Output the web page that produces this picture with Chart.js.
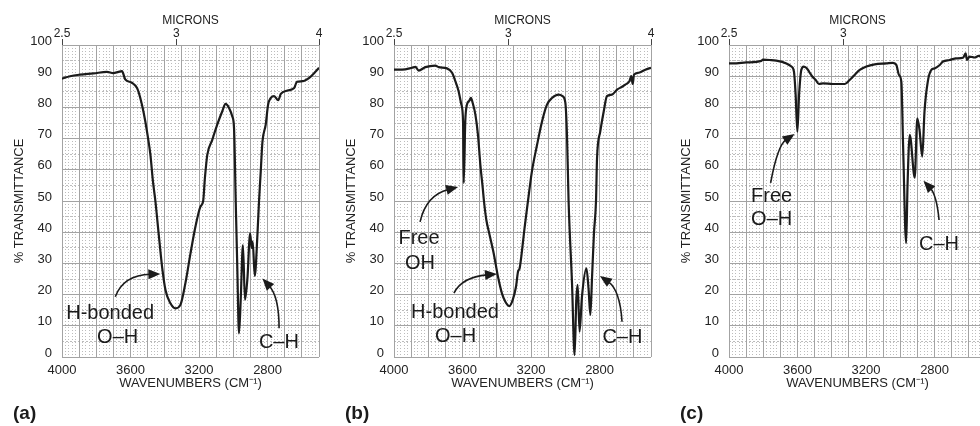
<!DOCTYPE html>
<html>
<head>
<meta charset="utf-8">
<script src="https://cdn.jsdelivr.net/npm/chart.js@4.4.1/dist/chart.umd.min.js"></script>
<style>
  html, body { margin: 0; padding: 0; background: #fff; overflow: hidden; }
  body { width: 980px; height: 426px; position: relative; }
  .panel { position: absolute; top: 0; width: 330px; height: 426px; }
</style>
</head>
<body>
<div class="panel" style="left:0"><canvas id="chartA" width="330" height="426"></canvas></div>
<div class="panel" style="left:332px"><canvas id="chartB" width="330" height="426"></canvas></div>
<div class="panel" style="left:667px"><canvas id="chartC" width="330" height="426"></canvas></div>
<script>
// tick labels
const WN_LABELS = [4000, 3600, 3200, 2800];
const Y_TICKS = [0, 10, 20, 30, 40, 50, 60, 70, 80, 90, 100];
const MICRON_TICKS = [2.5, 3, 4];

// (a) wavenumber (cm-1) / % transmittance
const WN_A = [4000, 3953, 3895, 3816, 3738, 3700, 3670, 3650, 3631, 3592, 3562, 3543, 3523, 3504, 3484, 3469,
  3455, 3436, 3416, 3396, 3367, 3338, 3309, 3280, 3250, 3221, 3192, 3176, 3166, 3152, 3123, 3094, 3065, 3045,
  3025, 3006, 2996, 2986, 2977, 2967, 2957, 2944, 2932, 2918, 2902, 2893, 2887, 2875, 2859, 2850, 2840, 2830,
  2811, 2797, 2782, 2762, 2738, 2723, 2684, 2645, 2629, 2596, 2557, 2518, 2500];
const T_A = [89.2, 90.0, 90.5, 90.9, 91.4, 91.0, 91.4, 91.6, 89.0, 87.9, 86.2, 83.0, 78.2, 72.3, 64.8, 56.2,
  50.0, 39.6, 29.0, 21.5, 17.2, 15.6, 16.7, 23.6, 33.2, 41.8, 48.2, 50.0, 57.3, 64.8, 69.6, 74.5, 78.7, 81.1,
  79.8, 77.1, 73.4, 49.8, 29.0, 7.6, 18.3, 35.9, 18.3, 25.0, 39.6, 35.0, 37.0, 26.0, 39.6, 50.0, 59.5, 69.0,
  74.5, 80.9, 83.0, 83.6, 82.3, 84.3, 85.4, 86.2, 88.2, 88.4, 89.5, 91.6, 92.7];

// (b)
const WN_B = [4000, 3953, 3895, 3875, 3856, 3817, 3759, 3739, 3691, 3661, 3642, 3623, 3607, 3597, 3593, 3584,
  3574, 3560, 3551, 3541, 3525, 3510, 3496, 3482, 3475, 3461, 3444, 3418, 3393, 3370, 3350, 3327, 3307, 3288,
  3276, 3267, 3257, 3237, 3218, 3195, 3165, 3136, 3107, 3078, 3039, 3016, 3000, 2990, 2981, 2961, 2946, 2936,
  2928, 2917, 2903, 2877, 2864, 2854, 2844, 2833, 2821, 2815, 2796, 2776, 2757, 2728, 2698, 2669, 2650, 2626,
  2615, 2607, 2599, 2572, 2533, 2500];
const T_B = [92.1, 92.1, 92.7, 93.0, 91.8, 92.9, 93.4, 92.9, 92.5, 91.1, 88.4, 85.2, 80.9, 75.5, 55.7, 75.5,
  80.9, 82.2, 83.1, 81.5, 77.7, 71.3, 61.6, 54.1, 50.0, 43.9, 39.6, 33.2, 25.7, 20.4, 17.7, 16.3, 18.3, 22.5,
  27.4, 28.4, 32.2, 41.8, 50.0, 59.5, 68.0, 75.5, 80.9, 83.0, 84.1, 83.6, 81.5, 70.3, 50.0, 23.6, 0.6, 18.3,
  23.1, 8.1, 19.3, 28.4, 21.5, 13.5, 25.7, 39.6, 50.0, 63.7, 72.3, 78.7, 83.6, 84.1, 85.7, 86.6, 87.3, 88.4,
  90.0, 87.5, 90.5, 91.1, 92.1, 92.7];

// (c)
const WN_C = [4000, 3977, 3899, 3811, 3802, 3763, 3724, 3665, 3636, 3621, 3611, 3601, 3591, 3578, 3564, 3549,
  3533, 3514, 3494, 3475, 3451, 3393, 3325, 3296, 3267, 3237, 3198, 3150, 3082, 3043, 3023, 3008, 2994, 2984,
  2966, 2958, 2945, 2916, 2901, 2888, 2872, 2859, 2840, 2819, 2800, 2770, 2751, 2712, 2673, 2634, 2619, 2611,
  2596, 2566, 2543, 2520, 2500];
const T_C = [94.1, 94.1, 94.4, 94.9, 95.3, 95.2, 95.0, 94.1, 93.1, 91.5, 84.0, 72.2, 84.0, 92.0, 93.1, 92.7,
  91.5, 89.9, 88.8, 87.5, 87.7, 87.5, 87.5, 88.8, 90.4, 92.0, 93.1, 93.8, 94.1, 94.3, 93.6, 90.4, 88.2, 68.0,
  36.5, 55.0, 71.2, 57.5, 76.5, 72.8, 64.2, 78.6, 88.2, 92.0, 92.5, 93.6, 94.7, 95.2, 95.7, 95.9, 97.3, 95.2,
  96.3, 96.0, 96.5, 96.3, 96.5];

// annotation texts and arrows, in data coordinates (wavenumber, %T)
const NOTES_A = [
  { text: 'H-bonded', wn: 3719, t: 12.2 },
  { text: 'O–H', wn: 3675, t: 4.5 },
  { text: 'C–H', wn: 2734, t: 2.9 }
];
const ARROWS_A = [
  { from: [3689, 19.3], ctrl: [3641, 26.3], to: [3426, 26.6] },
  { from: [2733, 9.2], ctrl: [2733, 19.3], to: [2830, 25.2] }
];
const NOTES_B = [
  { text: 'Free', wn: 3854, t: 36.2 },
  { text: 'OH', wn: 3848, t: 28.1 },
  { text: 'H-bonded', wn: 3644, t: 12.4 },
  { text: 'O–H', wn: 3641, t: 4.9 },
  { text: 'C–H', wn: 2667, t: 4.4 }
];
const ARROWS_B = [
  { from: [3848, 43.3], ctrl: [3813, 51.9], to: [3626, 54.5] },
  { from: [3650, 20.5], ctrl: [3603, 25.6], to: [3399, 26.6] },
  { from: [2669, 11.3], ctrl: [2681, 21.5], to: [2798, 26.0] }
];
const NOTES_C = [
  { text: 'Free', wn: 3751, t: 49.8 },
  { text: 'O–H', wn: 3751, t: 42.3 },
  { text: 'C–H', wn: 2774, t: 34.3 }
];
const ARROWS_C = [
  { from: [3757, 55.8], ctrl: [3716, 67.9], to: [3617, 71.5] },
  { from: [2774, 43.9], ctrl: [2788, 51.9], to: [2865, 56.5] }
];

Chart.defaults.font.family = '"Liberation Sans", Arial, Helvetica, sans-serif';
Chart.defaults.color = '#222';

const INK = '#1b1b1b';
const MAJOR = '#a3a3a3';
const MINOR = '#bcbcbc';

const notesPlugin = {
  id: 'notes',
  afterDatasetsDraw(chart, args, opts) {
    const { ctx } = chart;
    const x = chart.scales.x, y = chart.scales.y;
    const px = p => ({ x: x.getPixelForValue(p[0]), y: y.getPixelForValue(p[1]) });
    ctx.save();
    ctx.fillStyle = INK;
    ctx.strokeStyle = INK;
    ctx.font = '20px "Liberation Sans", Arial, sans-serif';
    ctx.textAlign = 'center';
    ctx.textBaseline = 'alphabetic';
    opts.notes.forEach(n => ctx.fillText(n.text, x.getPixelForValue(n.wn), y.getPixelForValue(n.t)));

    opts.arrows.forEach(a => {
      const p0 = px(a.from), p1 = px(a.ctrl), p2 = px(a.to);
      let dx = p2.x - p1.x, dy = p2.y - p1.y;
      const len = Math.hypot(dx, dy) || 1;
      dx /= len; dy /= len;
      const headLen = 12, headW = 5;
      const bx = p2.x - dx * headLen, by = p2.y - dy * headLen;
      ctx.lineWidth = 1.6;
      ctx.beginPath();
      ctx.moveTo(p0.x, p0.y);
      ctx.quadraticCurveTo(p1.x, p1.y, bx + dx * 2, by + dy * 2);
      ctx.stroke();
      ctx.beginPath();
      ctx.moveTo(p2.x, p2.y);
      ctx.lineTo(bx - dy * headW, by + dx * headW);
      ctx.lineTo(bx + dy * headW, by - dx * headW);
      ctx.closePath();
      ctx.fill();
    });

    ctx.font = 'bold 19px "Liberation Sans", Arial, sans-serif';
    ctx.textAlign = 'left';
    ctx.fillText(opts.panel, 13, 419);
    ctx.restore();
  }
};

function makeChart(id, wn, tr, notes, arrows, panel) {
  const points = wn.map((w, i) => ({ x: w, y: tr[i] }));
  return new Chart(document.getElementById(id), {
    type: 'line',
    data: {
      datasets: [{
        data: points,
        xAxisID: 'x',
        yAxisID: 'y',
        borderColor: INK,
        borderWidth: 2.2,
        pointRadius: 0,
        fill: false,
        cubicInterpolationMode: 'monotone'
      }]
    },
    options: {
      responsive: false,
      animation: false,
      layout: { padding: { left: 0, right: 11, top: 0, bottom: 29 } },
      plugins: {
        legend: { display: false },
        tooltip: { enabled: false },
        notes: { notes: notes, arrows: arrows, panel: panel }
      },
      scales: {
        xMinor: {
          type: 'linear', position: 'bottom', min: 2500, max: 4000, reverse: true,
          ticks: { display: false, stepSize: 20, autoSkip: false },
          grid: { color: MINOR, drawTicks: false },
          border: { display: false, dash: [1, 2] },
          afterFit: s => { s.height = 0; }
        },
        yMinor: {
          type: 'linear', position: 'left', min: 0, max: 100,
          ticks: { display: false, stepSize: 5 },
          grid: { color: MINOR, drawTicks: false },
          border: { display: false, dash: [2, 2] },
          afterFit: s => { s.width = 0; }
        },
        x: {
          type: 'linear', position: 'bottom', min: 2500, max: 4000, reverse: true,
          ticks: {
            stepSize: 100, autoSkip: false, maxRotation: 0, padding: 6,
            font: { size: 13 },
            callback: v => WN_LABELS.includes(v) ? String(v) : ''
          },
          grid: { color: MAJOR, drawTicks: false },
          border: { display: false },
          title: { display: true, text: 'WAVENUMBERS (CM⁻¹)', font: { size: 13 }, padding: { top: 0, bottom: 6 } },
          afterFit: s => { s.height = 40; }
        },
        xTop: {
          type: 'linear', position: 'top', min: 2500, max: 4000, reverse: true,
          afterBuildTicks: s => { s.ticks = MICRON_TICKS.map(m => ({ value: 10000 / m })); },
          ticks: {
            autoSkip: false, maxRotation: 0, padding: -1,
            font: { size: 12, lineHeight: 1 },
            callback: (v, i) => String(MICRON_TICKS[i])
          },
          grid: { drawOnChartArea: false, drawTicks: true, tickLength: 6, color: '#444' },
          border: { display: false },
          title: { display: true, text: 'MICRONS', font: { size: 12 }, padding: { top: 13, bottom: 0 } },
          afterFit: s => { s.height = 45; }
        },
        y: {
          type: 'linear', position: 'left', min: 0, max: 100,
          afterBuildTicks: s => { s.ticks = Y_TICKS.map(v => ({ value: v })); },
          ticks: { padding: 10, labelOffset: -4, font: { size: 13 } },
          grid: { color: MAJOR, drawTicks: false },
          border: { display: false },
          title: { display: true, text: '% TRANSMITTANCE', font: { size: 13 }, padding: { top: 12, bottom: 0 } },
          afterFit: s => { s.width = 62; }
        }
      }
    },
    plugins: [notesPlugin]
  });
}

makeChart('chartA', WN_A, T_A, NOTES_A, ARROWS_A, '(a)');
makeChart('chartB', WN_B, T_B, NOTES_B, ARROWS_B, '(b)');
makeChart('chartC', WN_C, T_C, NOTES_C, ARROWS_C, '(c)');
</script>
</body>
</html>
